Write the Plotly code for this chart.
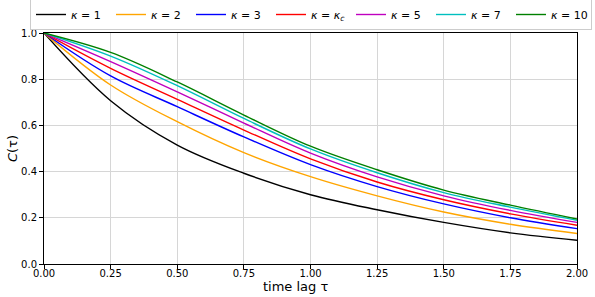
import plotly.graph_objects as go

tau = [0, 0.25, 0.5, 0.75, 1.0, 1.25, 1.5, 1.75, 2.0]

c_k1 = [1.0, 0.707, 0.515, 0.393, 0.300, 0.235, 0.180, 0.135, 0.103]
c_k2 = [1.0, 0.775, 0.616, 0.482, 0.378, 0.295, 0.225, 0.172, 0.132]
c_k3 = [1.0, 0.814, 0.681, 0.550, 0.430, 0.335, 0.260, 0.200, 0.153]
c_kc = [1.0, 0.847, 0.713, 0.580, 0.455, 0.355, 0.278, 0.217, 0.168]
c_k5 = [1.0, 0.876, 0.745, 0.610, 0.480, 0.377, 0.295, 0.232, 0.180]
c_k7 = [1.0, 0.900, 0.772, 0.630, 0.498, 0.395, 0.309, 0.246, 0.189]
c_k10 = [1.0, 0.916, 0.788, 0.645, 0.510, 0.408, 0.320, 0.255, 0.195]

labels = ["<i>κ</i> = 1", "<i>κ</i> = 2", "<i>κ</i> = 3",
          "<i>κ</i> = <i>κ<sub>c</sub></i>", "<i>κ</i> = 5",
          "<i>κ</i> = 7", "<i>κ</i> = 10"]
series = [c_k1, c_k2, c_k3, c_kc, c_k5, c_k7, c_k10]
colors = ["#000000", "#FFA500", "#0000FF", "#FF0000", "#BF00BF", "#00BFBF", "#008000"]

x_ticks = [0, 0.25, 0.5, 0.75, 1.0, 1.25, 1.5, 1.75, 2.0]
y_ticks = [0.0, 0.2, 0.4, 0.6, 0.8, 1.0]

font = "DejaVu Sans"
fig = go.Figure()
for lab, ys, col in zip(labels, series, colors):
    fig.add_trace(go.Scatter(x=tau, y=ys, mode="lines", name=lab,
                             line=dict(color=col, width=1.4, shape="spline", smoothing=1.0)))

axis_common = dict(showline=True, mirror=True, linecolor="#000000", linewidth=1,
                   ticks="outside", ticklen=4, tickcolor="#000000",
                   showgrid=True, gridcolor="#d6d6d6", gridwidth=1, zeroline=False,
                   tickfont=dict(family=font, size=10, color="#000000"))

fig.update_xaxes(range=[0, 2], tickvals=x_ticks, ticklabelstandoff=-4,
                 ticktext=[f"{v:.2f}" for v in x_ticks], **axis_common)
fig.update_yaxes(range=[0, 1], tickvals=y_ticks,
                 ticktext=[f"{v:.1f}" for v in y_ticks],
                 title=dict(text="<i>C</i>(τ)", font=dict(family=font, size=13, color="#000000"), standoff=0),
                 **axis_common)

fig.add_annotation(text="time lag τ", xref="paper", yref="paper", x=(295 - 44) / 533, y=-0.058,
                   xanchor="center", yanchor="top", showarrow=False,
                   font=dict(family=font, size=13, color="#000000"))

fig.update_layout(
    width=595, height=297,
    margin=dict(l=44, r=18, t=33, b=33, autoexpand=False),
    paper_bgcolor="white", plot_bgcolor="white",
    showlegend=True,
    legend=dict(orientation="h", xref="paper", x=(30 - 44) / 533, xanchor="left",
                yref="paper", y=1 + (33 - 14.5) / 231, yanchor="middle",
                entrywidthmode="pixels", entrywidth=35, itemwidth=30,
                bordercolor="#cccccc", borderwidth=1, bgcolor="white",
                font=dict(family=font, size=11, color="#000000")),
)

fig.write_html("out.html", config={"displayModeBar": False},
               post_script="document.body.style.margin='0px';")
